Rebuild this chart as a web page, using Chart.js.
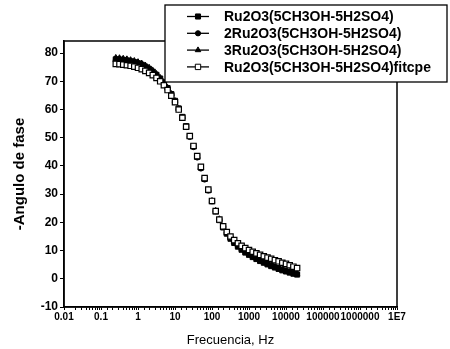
<!DOCTYPE html>
<html>
<head>
<meta charset="utf-8">
<script src="https://cdn.jsdelivr.net/npm/chart.js@4/dist/chart.umd.min.js"></script>
<style>
  body { margin: 0; background: #fff; }
  #wrap { width: 450px; height: 349px; }
</style>
</head>
<body>
<div id="wrap"><canvas id="myChart" width="450" height="349"></canvas></div>
<script>
// frequencies (Hz)
var freq = [0.251, 0.316, 0.398, 0.501, 0.631, 0.794, 1.0, 1.26, 1.58, 2.0,
    2.51, 3.16, 3.98, 5.01, 6.31, 7.94, 10, 12.6, 15.8, 20,
    25.1, 31.6, 39.8, 50.1, 63.1, 79.4, 100, 126, 158, 200,
    251, 316, 398, 501, 631, 794, 1000, 1259, 1585, 1995,
    2512, 3162, 3981, 5012, 6310, 7943, 10000, 12589, 15849, 19953];

// -phase angle (deg)
var ru1 = [77.8, 77.7, 77.6, 77.4, 77.1, 76.8, 76.4, 75.9, 75.2, 74.4,
    73.4, 72.3, 71.0, 69.4, 67.6, 65.5, 63.1, 60.4, 57.4, 54.1,
    50.6, 47.0, 43.3, 39.4, 35.4, 31.4, 27.5, 23.9, 20.8, 18.2,
    16.0, 14.2, 12.7, 11.4, 10.3, 9.3, 8.5, 7.7, 7.0, 6.3,
    5.7, 5.1, 4.5, 4.0, 3.5, 3.0, 2.6, 2.2, 1.8, 1.5];
var ru2 = [77.2, 77.1, 77.0, 76.8, 76.6, 76.3, 75.9, 75.4, 74.8, 74.0,
    73.1, 72.0, 70.7, 69.1, 67.3, 65.2, 62.8, 60.1, 57.1, 53.8,
    50.3, 46.7, 43.0, 39.1, 35.2, 31.3, 27.5, 24.0, 21.0, 18.5,
    16.3, 14.5, 13.0, 11.7, 10.6, 9.6, 8.7, 7.9, 7.2, 6.5,
    5.9, 5.3, 4.7, 4.2, 3.7, 3.2, 2.8, 2.4, 2.0, 1.7];
var ru3 = [78.4, 78.3, 78.1, 77.9, 77.6, 77.3, 76.9, 76.4, 75.7, 74.9,
    73.9, 72.7, 71.3, 69.7, 67.8, 65.6, 63.1, 60.3, 57.2, 53.9,
    50.4, 46.8, 43.1, 39.3, 35.4, 31.5, 27.7, 24.2, 21.2, 18.6,
    16.4, 14.6, 13.1, 11.8, 10.7, 9.7, 8.8, 8.0, 7.3, 6.6,
    6.0, 5.4, 4.8, 4.3, 3.8, 3.3, 2.9, 2.5, 2.1, 1.8];
var fitcpe = [76.2, 76.1, 75.9, 75.7, 75.5, 75.2, 74.8, 74.3, 73.7, 73.0,
    72.2, 71.2, 70.0, 68.6, 66.9, 64.9, 62.6, 60.0, 57.1, 53.9,
    50.6, 47.1, 43.5, 39.7, 35.7, 31.6, 27.6, 24.0, 21.0, 18.6,
    16.6, 15.0, 13.7, 12.6, 11.7, 10.9, 10.2, 9.6, 9.0, 8.5,
    8.0, 7.5, 7.1, 6.6, 6.2, 5.7, 5.3, 4.8, 4.3, 3.8];

var labels = ['Ru2O3(5CH3OH-5H2SO4)', '2Ru2O3(5CH3OH-5H2SO4)',
    '3Ru2O3(5CH3OH-5H2SO4)', 'Ru2O3(5CH3OH-5H2SO4)fitcpe'];

var xTicks = [0.01, 0.1, 1, 10, 100, 1000, 10000, 100000, 1000000, 10000000];
var xTickLabels = ['0.01', '0.1', '1', '10', '100', '1000', '10000', '100000', '1000000', '1E7'];

var FONT = '"Liberation Sans", Arial, sans-serif';

function pts(arr) {
    return freq.map(function (f, i) { return {x: f, y: arr[i]}; });
}

// box round the plot
var frame = {
    id: 'frame',
    afterDatasetsDraw: function (chart) {
        var a = chart.chartArea, ctx = chart.ctx;
        ctx.save();
        ctx.strokeStyle = '#000';
        ctx.lineWidth = 1.5;
        ctx.strokeRect(a.left, a.top, a.right - a.left, a.bottom - a.top);
        ctx.restore();
    }
};

// legend box drawn over the top right corner
var legendBox = {
    id: 'legendBox',
    afterDraw: function (chart) {
        var ctx = chart.ctx;
        var x0 = 165, y0 = 5, x1 = 447, y1 = 82;
        ctx.save();
        ctx.fillStyle = '#fff';
        ctx.fillRect(x0, y0, x1 - x0, y1 - y0);
        ctx.strokeStyle = '#000';
        ctx.lineWidth = 1.3;
        ctx.strokeRect(x0, y0, x1 - x0, y1 - y0);
        ctx.font = 'bold 14px ' + FONT;
        ctx.textBaseline = 'middle';
        chart.data.datasets.forEach(function (ds, i) {
            var y = 16.5 + i * 16.8;
            ctx.strokeStyle = '#000';
            ctx.lineWidth = 1.3;
            ctx.beginPath();
            ctx.moveTo(187, y);
            ctx.lineTo(209, y);
            ctx.stroke();
            ctx.fillStyle = ds.pointBackgroundColor;
            ctx.strokeStyle = '#000';
            ctx.lineWidth = 1;
            Chart.helpers.drawPoint(ctx, {pointStyle: ds.pointStyle, radius: ds.pointRadius, rotation: 0, borderWidth: 1}, 198, y);
            ctx.fillStyle = '#000';
            ctx.fillText(ds.label, 224, y + 1);
        });
        ctx.restore();
    }
};

var ctx = document.getElementById('myChart').getContext('2d');
var chart = new Chart(ctx, {
    type: 'scatter',
    data: {
        datasets: [{
            label: labels[0],
            data: pts(ru1),
            pointStyle: 'rect',
            pointRadius: 3.6,
            pointBackgroundColor: '#000',
            pointBorderColor: '#000',
            order: 1
        }, {
            label: labels[1],
            data: pts(ru2),
            pointStyle: 'circle',
            pointRadius: 2.6,
            pointBackgroundColor: '#000',
            pointBorderColor: '#000',
            order: 2
        }, {
            label: labels[2],
            data: pts(ru3),
            pointStyle: 'triangle',
            pointRadius: 3.2,
            pointBackgroundColor: '#000',
            pointBorderColor: '#000',
            order: 3
        }, {
            label: labels[3],
            data: pts(fitcpe),
            pointStyle: 'rect',
            pointRadius: 3.8,
            pointBackgroundColor: '#fff',
            pointBorderColor: '#000',
            pointBorderWidth: 1.2,
            order: 0
        }]
    },
    options: {
        responsive: false,
        animation: false,
        layout: {padding: {top: 41, right: 53, left: 0, bottom: 0}},
        plugins: {legend: {display: false}, tooltip: {enabled: false}},
        scales: {
            x: {
                type: 'logarithmic',
                min: 0.01,
                max: 10000000,
                border: {color: '#000', width: 1.5},
                grid: {drawOnChartArea: false, tickLength: 3, color: '#000'},
                afterFit: function (s) { s.height = 42; },
                ticks: {
                    autoSkip: false,
                    maxRotation: 0,
                    padding: 1,
                    color: '#000',
                    font: {family: FONT, size: 10, weight: 'bold'},
                    callback: function (v) {
                        var k = xTicks.findIndex(function (t) { return Math.abs(t - v) / t < 1e-6; });
                        return k >= 0 ? xTickLabels[k] : '';
                    }
                },
                title: {
                    display: true,
                    text: 'Frecuencia, Hz',
                    color: '#000',
                    font: {family: FONT, size: 13},
                    padding: {top: 0, bottom: 1}
                }
            },
            y: {
                min: -10,
                max: 84.3,
                border: {color: '#000', width: 1.5},
                grid: {drawOnChartArea: false, tickLength: 4, color: '#000'},
                afterFit: function (s) { s.width = 64; },
                ticks: {
                    stepSize: 5,
                    includeBounds: false,
                    padding: 2,
                    color: '#000',
                    font: {family: FONT, size: 12, weight: 'bold'},
                    callback: function (v) { return v % 10 === 0 ? String(v) : ''; }
                },
                title: {
                    display: true,
                    text: '-Angulo de fase',
                    color: '#000',
                    font: {family: FONT, size: 15, weight: 'bold'},
                    padding: {top: 11, bottom: 0}
                }
            }
        }
    },
    plugins: [frame, legendBox]
});
</script>
</body>
</html>
